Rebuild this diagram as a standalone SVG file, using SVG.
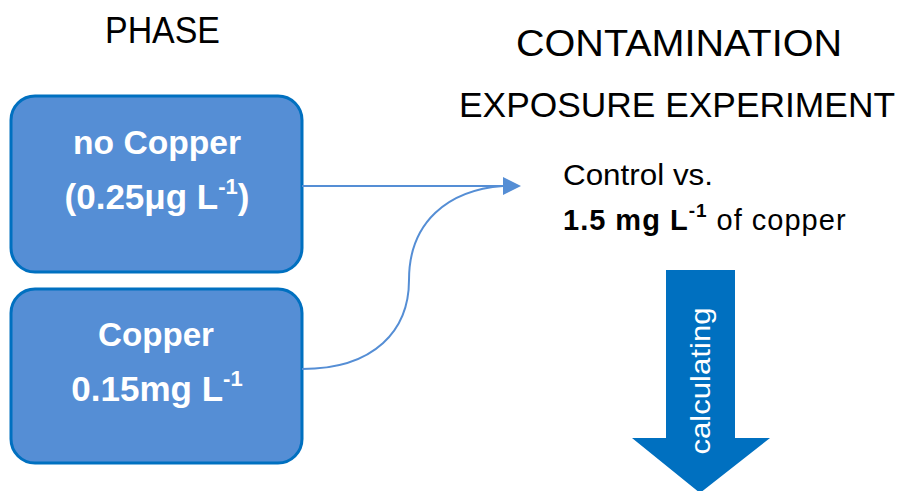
<svg xmlns="http://www.w3.org/2000/svg" width="904" height="491" viewBox="0 0 904 491">
<defs>
<style>
.box{fill:#558ED5;stroke:#0070C0;stroke-width:3}
.bt{font-family:"Liberation Sans",Arial,sans-serif;font-weight:bold;fill:#fff;font-size:34px;text-anchor:middle}
.hd{font-family:"Liberation Sans",Arial,sans-serif;fill:#000;font-size:37px}
.tx{font-family:"Liberation Sans",Arial,sans-serif;fill:#000;font-size:29px}
.con{fill:none;stroke:#558ED5;stroke-width:2}
</style>
<marker id="ah" markerWidth="18" markerHeight="18" refX="0" refY="9" orient="auto" markerUnits="userSpaceOnUse">
<path d="M0,0 L18,9 L0,18 Z" fill="#558ED5"/>
</marker>
</defs>
<rect width="904" height="491" fill="#fff"/>
<text class="hd" x="105" y="43" textLength="115" lengthAdjust="spacingAndGlyphs">PHASE</text>
<text class="hd" x="516" y="56" textLength="326" lengthAdjust="spacingAndGlyphs">CONTAMINATION</text>
<text class="hd" x="459" y="117" style="font-size:35px" textLength="436" lengthAdjust="spacingAndGlyphs">EXPOSURE EXPERIMENT</text>
<g id="node-no-copper">
<rect class="box" x="11" y="96" width="291" height="176" rx="24"/>
<text class="bt" x="157" y="154" textLength="168" lengthAdjust="spacingAndGlyphs">no Copper</text>
<text class="bt" x="157" y="209" style="font-size:35px">(0.25μg L<tspan font-size="22" dy="-15">-1</tspan><tspan dy="15">)</tspan></text>
</g>
<g id="node-copper">
<rect class="box" x="11" y="289" width="291" height="174" rx="24"/>
<text class="bt" x="156" y="346" textLength="116" lengthAdjust="spacingAndGlyphs">Copper</text>
<text class="bt" x="157" y="401" style="font-size:35px">0.15mg L<tspan font-size="22" dy="-15">-1</tspan></text>
</g>
<g id="node-experiment">
<text class="tx" x="563" y="185" textLength="150" lengthAdjust="spacingAndGlyphs">Control vs.</text>
<text class="tx" x="563" y="230" letter-spacing="1"><tspan font-weight="bold">1.5 mg L</tspan><tspan font-weight="bold" font-size="19" dy="-13">-1</tspan><tspan dy="13"> of copper</tspan></text>
</g>
<g id="node-calculating">
<path d="M666,270 H735 V438 H770 L700,493 L632,438 H666 Z" fill="#0070C0"/>
<text x="0" y="0" transform="translate(710,381) rotate(-90)" font-family="Liberation Sans,Arial,sans-serif" font-size="28" fill="#fff" text-anchor="middle" textLength="147" lengthAdjust="spacingAndGlyphs">calculating</text>
</g>
<g id="connectors">
<path class="con" d="M302,186 H503" marker-end="url(#ah)"/>
<path class="con" d="M302,369 C375,369 409,330 409,280 C409,222 448,190 503,186"/>
</g>
</svg>
